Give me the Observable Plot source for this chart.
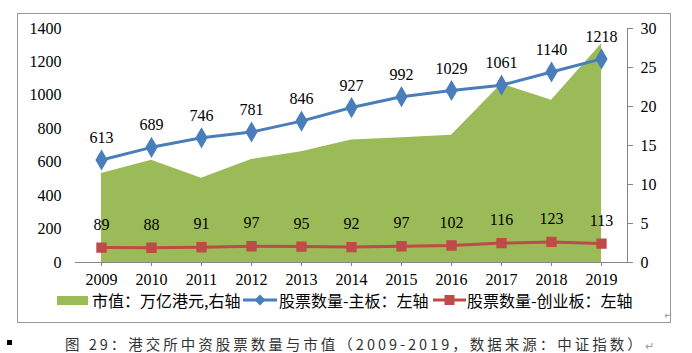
<!DOCTYPE html>
<html>
<head>
<meta charset="utf-8">
<script src="https://cdn.jsdelivr.net/npm/d3@7"></script>
<script src="https://cdn.jsdelivr.net/npm/@observablehq/plot@0.6"></script>
<style>
  body { margin: 0; background: #fff; }
  #wrap { position: relative; width: 692px; height: 353px; overflow: hidden; background: #fff; }
  #chart { position: absolute; left: 0; top: 0; }
  .frame { position: absolute; left: 17px; top: 13px; width: 652px; height: 308px; border: 1px solid #9a9a9a; box-sizing: content-box; }
  .lg { position: absolute; font-family: "Noto Sans CJK SC", sans-serif; font-size: 16px; line-height: 1; color: #000; white-space: nowrap; }
  .cap { position: absolute; font-family: "Noto Sans CJK SC", sans-serif; font-size: 14.5px; letter-spacing: 3px; color: #333; white-space: nowrap; line-height: 1; }
</style>
</head>
<body>
<div id="wrap">
  <div class="frame"></div>
  <div id="chart"></div>
</div>
<script>
// ---- data ----
const years = [2009, 2010, 2011, 2012, 2013, 2014, 2015, 2016, 2017, 2018, 2019];
const mainBoard = [613, 689, 746, 781, 846, 927, 992, 1029, 1061, 1140, 1218];
const gemBoard = [89, 88, 91, 97, 95, 92, 97, 102, 116, 123, 113];
const marketCap = [11.4, 13.1, 10.8, 13.2, 14.2, 15.7, 16.0, 16.3, 22.9, 20.8, 28.0];
const leftTicks = [0, 200, 400, 600, 800, 1000, 1200, 1400];
const rightTicks = [0, 5, 10, 15, 20, 25, 30];
const seriesNames = ["市值：万亿港元,右轴", "股票数量-主板：左轴", "股票数量-创业板：左轴"];
const captionText = "图 29：港交所中资股票数量与市值（2009-2019，数据来源：中证指数）";

const LEFT_MAX = 1400, RIGHT_MAX = 30;
const toLeft = v => v * LEFT_MAX / RIGHT_MAX;

const data = years.map((y, i) => ({year: y, main: mainBoard[i], gem: gemBoard[i], cap: marketCap[i]}));

const green = "#9BBB59", blue = "#4A7EBB", red = "#BE4B48", axisGray = "#868686";

const chart = Plot.plot({
  width: 692,
  height: 353,
  marginLeft: 75,
  marginRight: 65,
  marginTop: 28,
  marginBottom: 91,
  style: {fontFamily: "'Liberation Serif', serif", fontSize: "16px", color: "#000", background: "transparent"},
  x: {type: "point", domain: years, padding: 0.5, axis: null, label: null},
  y: {domain: [0, LEFT_MAX], axis: null, label: null},
  marks: [
    Plot.areaY(data, {x: "year", y: d => toLeft(d.cap), fill: green}),
    Plot.ruleY([0], {stroke: axisGray, strokeWidth: 1}),
    Plot.axisX({anchor: "bottom", label: null, tickSize: 4, tickPadding: 7, stroke: axisGray, fontSize: 16, tickFormat: d => String(d), color: "#000"}),
    Plot.axisY(leftTicks, {anchor: "left", label: null, tickSize: 0, tickPadding: 14, fontSize: 16, tickFormat: d => String(d)}),
    Plot.frame({anchor: "right", stroke: axisGray}),
    Plot.axisY(rightTicks.map(toLeft), {anchor: "right", label: null, tickSize: 5, tickPadding: 8, stroke: axisGray, fontSize: 16, tickFormat: d => String(Math.round(d * RIGHT_MAX / LEFT_MAX))}),
    Plot.line(data, {x: "year", y: "main", stroke: blue, strokeWidth: 3}),
    Plot.dot(data, {x: "year", y: "main", symbol: "diamond", r: 5.5, fill: blue, stroke: blue}),
    Plot.line(data, {x: "year", y: "gem", stroke: red, strokeWidth: 3}),
    Plot.dot(data, {x: "year", y: "gem", symbol: "square", r: 5, fill: red, stroke: red}),
    Plot.text(data, {x: "year", y: "main", text: d => String(d.main), dy: -22, fontSize: 16, fill: "#000"}),
    Plot.text(data, {x: "year", y: "gem", text: d => String(d.gem), dy: -23, fontSize: 16, fill: "#000"})
  ]
});
document.getElementById("chart").appendChild(chart);

// ---- legend (HTML) ----
const wrap = document.getElementById("wrap");
function add(html) { wrap.insertAdjacentHTML("beforeend", html); }
add(`<div style="position:absolute;left:57px;top:296px;width:31px;height:9px;background:${green}"></div>`);
add(`<div class="lg" style="left:92px;top:292px">${seriesNames[0]}</div>`);
add(`<svg style="position:absolute;left:243px;top:292px" width="35" height="16"><line x1="0" y1="8" x2="34" y2="8" stroke="${blue}" stroke-width="3"/><path d="M17,2.5 L22.5,8 L17,13.5 L11.5,8Z" fill="${blue}"/></svg>`);
add(`<div class="lg" style="left:279px;top:292px">${seriesNames[1]}</div>`);
add(`<svg style="position:absolute;left:433px;top:292px" width="34" height="16"><line x1="0" y1="8" x2="33" y2="8" stroke="${red}" stroke-width="3"/><rect x="11.5" y="3" width="10" height="10" fill="${red}"/></svg>`);
add(`<div class="lg" style="left:467px;top:292px">${seriesNames[2]}</div>`);
// caption
add(`<div style="position:absolute;left:7px;top:340px;width:5px;height:5px;background:#000"></div>`);
add(`<div class="cap" style="left:65px;top:337px">${captionText}<span style="color:#999;font-size:11px;letter-spacing:0">↵</span></div>`);
add(`<div style="position:absolute;left:664px;top:310px;color:#999;font-size:10px;font-family:'DejaVu Sans'">↵</div>`);
</script>
</body>
</html>
